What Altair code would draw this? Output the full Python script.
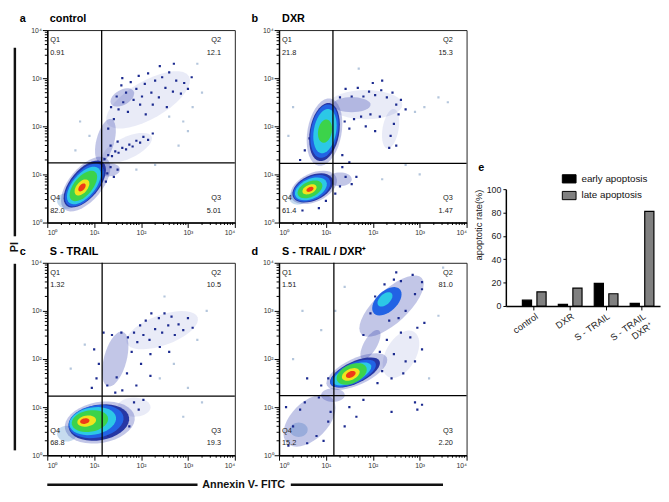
import math
import altair as alt
import pandas as pd

FONT = "Liberation Sans"
NB = "\u00a0"

# ---------------- data ----------------
PANEL_KEYS = ["a", "b", "c", "d"]
PANEL_NAMES = ["control", "DXR", "S - TRAIL", "S - TRAIL / DXR\u207a"]
Q1 = ["0.91", "21.8", "1.32", "1.51"]
Q2 = ["12.1", "15.3", "10.5", "81.0"]
Q3 = ["5.01", "1.47", "19.3", "2.20"]
Q4 = ["82.0", "61.4", "68.8", "15.2"]
GATE_X = [1.16, 1.15, 1.17, 1.17]   # log10 Annexin V gate
GATE_Y = [1.24, 1.23, 1.23, 1.24]   # log10 PI gate

GROUPS = ["control", "DXR", "S - TRAIL", "S - TRAIL / DXR\u207a"]
SERIES = ["early apoptosis", "late apoptosis"]
EARLY = [5.01, 1.47, 19.3, 2.20]
LATE = [12.1, 15.3, 10.5, 81.0]

# density contours:
# (level, log10 Annexin centre, log10 PI centre, extent in decades, shape, orientation deg)
A_POP = [
    ("halo", 0.42, 0.45, 0.42, "r", 0),
    ("hazeD", 1.24, 1.70, 0.95, "s", 285),
    ("hazeD", 1.30, 1.10, 0.50, "o", 0),
    ("hazeL", 2.15, 2.55, 2.00, "s", 330),
    ("hazeL", 1.70, 1.55, 1.15, "s", 335),
    ("hazeD", 1.60, 2.60, 0.55, "o", 330),
    ("hazeD", 0.82, 0.80, 1.40, "m", 310),
    ("navy", 0.80, 0.80, 1.20, "m", 310),
    ("blue", 0.79, 0.78, 1.10, "m", 310),
    ("cyan", 0.78, 0.77, 0.96, "m", 310),
    ("green", 0.77, 0.76, 0.78, "m", 310),
    ("yellow", 0.74, 0.73, 0.40, "o", 310),
    ("red", 0.74, 0.73, 0.20, "o", 310),
]
B_POP = [
    ("halo", 0.40, 0.52, 0.38, "r", 0),
    ("hazeL", 1.85, 2.45, 1.55, "s", 0),
    ("hazeL", 2.38, 1.95, 0.85, "s", 280),
    ("hazeD", 1.55, 2.45, 0.80, "s", 0),
    ("hazeD", 1.30, 0.90, 0.50, "o", 0),
    ("hazeD", 0.74, 0.73, 1.05, "o", 335),
    ("navy", 0.72, 0.72, 0.92, "o", 335),
    ("blue", 0.70, 0.71, 0.84, "o", 335),
    ("cyan", 0.68, 0.70, 0.72, "o", 335),
    ("green", 0.66, 0.69, 0.56, "o", 335),
    ("yellow", 0.65, 0.69, 0.32, "o", 335),
    ("red", 0.66, 0.69, 0.16, "o", 335),
    ("hazeD", 0.97, 1.88, 1.45, "m", 280),
    ("navy", 0.97, 1.88, 1.25, "m", 280),
    ("blue", 0.97, 1.90, 1.15, "m", 280),
    ("cyan", 0.98, 1.90, 0.95, "m", 280),
    ("green", 0.98, 1.90, 0.50, "o", 280),
]
C_POP = [
    ("halo", 0.42, 0.45, 0.42, "r", 0),
    ("hazeL", 2.45, 2.60, 1.60, "s", 340),
    ("hazeD", 1.45, 2.00, 1.20, "s", 285),
    ("hazeL", 1.85, 1.00, 0.70, "o", 0),
    ("hazeD", 1.12, 0.68, 1.50, "o", 350),
    ("navy", 1.10, 0.68, 1.30, "o", 350),
    ("blue", 1.04, 0.70, 1.18, "o", 350),
    ("cyan", 0.97, 0.71, 1.00, "o", 350),
    ("green", 0.91, 0.71, 0.78, "o", 350),
    ("yellow", 0.84, 0.71, 0.40, "o", 350),
    ("red", 0.80, 0.71, 0.20, "o", 350),
]
D_POP = [
    ("halo", 0.42, 0.53, 0.38, "r", 0),
    ("hazeD", 0.65, 0.72, 1.35, "o", 315),
    ("hazeD", 1.15, 1.25, 0.50, "o", 0),
    ("hazeL", 2.60, 2.10, 1.10, "o", 300),
    ("hazeD", 1.95, 2.30, 0.70, "s", 300),
    ("hazeD", 2.40, 3.10, 1.75, "s", 317),
    ("blue", 2.30, 3.20, 0.75, "o", 317),
    ("cyan", 2.26, 3.24, 0.38, "o", 317),
    ("hazeD", 1.66, 1.74, 1.40, "s", 335),
    ("navy", 1.62, 1.72, 1.15, "s", 335),
    ("blue", 1.58, 1.70, 1.05, "s", 335),
    ("cyan", 1.56, 1.69, 0.88, "s", 335),
    ("green", 1.55, 1.69, 0.68, "o", 335),
    ("yellow", 1.53, 1.68, 0.40, "o", 335),
    ("red", 1.53, 1.68, 0.22, "o", 335),
]

# individual sparse events (log10 Annexin, log10 PI)
A_DOTS = [(1.30, 1.95), (1.36, 2.40), (1.42, 2.15), (1.48, 2.62), (1.52, 2.35), (1.58, 2.85), (1.62, 2.50),
          (1.68, 2.70), (1.72, 2.30), (1.78, 2.92), (1.84, 2.55), (1.90, 2.78), (1.95, 3.05), (2.02, 2.62),
          (2.08, 2.88), (2.15, 3.10), (2.22, 2.70), (2.30, 2.95), (2.38, 2.60), (2.45, 3.02), (2.52, 2.80),
          (2.60, 3.12), (2.68, 2.72), (2.75, 2.95), (2.85, 2.68), (2.92, 2.90), (3.00, 2.78), (3.08, 3.02),
          (2.25, 2.45), (2.55, 2.40), (2.10, 2.25), (1.98, 2.45), (2.70, 3.30), (2.40, 3.25), (1.60, 3.00),
          (1.22, 1.32), (1.30, 1.40), (1.38, 1.38), (1.45, 1.48), (1.52, 1.45), (1.60, 1.55), (1.68, 1.52),
          (1.75, 1.62), (1.82, 1.58), (1.90, 1.70), (1.98, 1.66), (2.05, 1.78), (2.15, 1.72), (2.25, 1.85),
          (1.35, 1.60), (1.50, 1.68), (1.20, 1.10), (1.28, 1.02), (1.35, 1.15), (1.42, 0.95), (1.50, 1.10),
          (1.25, 0.85)]
A_PALE = [(2.60, 2.20), (2.90, 2.10), (3.10, 2.40), (2.80, 1.60), (3.20, 3.30), (0.90, 1.80), (0.70, 2.10),
          (2.30, 1.20), (3.00, 1.90), (1.90, 1.10), (0.60, 1.50), (3.30, 2.70)]
B_DOTS = [(1.30, 2.60), (1.42, 2.78), (1.55, 2.62), (1.68, 2.80), (1.80, 2.62), (1.92, 2.72), (2.05, 2.65),
          (2.18, 2.75), (2.30, 2.60), (2.42, 2.70), (2.50, 2.45), (2.55, 2.25), (2.45, 2.05), (2.38, 1.80),
          (2.50, 1.60), (2.35, 1.55), (2.60, 2.55), (2.70, 2.35), (1.40, 2.10), (1.60, 2.15), (1.75, 2.20),
          (1.95, 2.25), (2.15, 2.20), (1.50, 1.95), (1.85, 2.00), (2.05, 1.90), (1.35, 1.40), (1.30, 0.75),
          (1.42, 0.95), (1.55, 0.80), (1.65, 0.95), (1.20, 0.60), (0.55, 1.50), (0.65, 1.75), (0.45, 1.30),
          (0.50, 0.25), (0.85, 0.30), (1.00, 0.45), (1.35, 1.15), (1.50, 1.25), (2.00, 2.90), (2.20, 2.95)]
B_PALE = [(2.90, 2.30), (3.10, 2.40), (3.40, 2.60), (2.70, 1.20), (3.00, 1.00), (0.20, 1.80), (0.30, 2.40),
          (1.70, 3.20), (3.60, 2.50), (2.20, 0.90)]
C_DOTS = [(1.20, 2.55), (1.28, 1.45), (1.38, 2.50), (1.48, 1.62), (1.58, 2.55), (1.72, 2.45), (1.80, 2.15),
          (1.85, 2.55), (1.92, 2.35), (1.98, 2.70), (2.05, 2.50), (2.10, 2.80), (2.18, 2.40), (2.22, 2.95),
          (2.30, 2.62), (2.38, 2.85), (2.45, 2.55), (2.50, 2.95), (2.58, 2.70), (2.65, 2.88), (2.72, 2.50),
          (2.80, 2.72), (2.90, 2.60), (3.00, 2.85), (3.10, 2.65), (2.40, 2.25), (2.60, 2.15), (2.20, 2.10),
          (2.00, 1.90), (1.70, 1.70), (1.90, 1.45), (2.20, 1.65), (1.45, 1.30), (1.60, 1.35), (1.85, 1.10),
          (1.95, 0.95), (2.05, 1.15), (1.75, 0.60), (1.30, 0.40), (0.95, 1.40), (1.05, 1.60), (1.10, 1.90),
          (1.00, 2.20)]
C_PALE = [(2.40, 1.60), (2.70, 1.90), (3.00, 1.40), (3.20, 2.40), (3.40, 3.00), (2.50, 3.30), (0.50, 1.80),
          (0.80, 2.30), (2.90, 0.80), (3.30, 1.10)]
D_DOTS = [(1.95, 2.95), (2.05, 3.30), (2.25, 3.55), (2.45, 3.65), (2.60, 3.62), (2.85, 3.75), (3.05, 3.60),
          (3.05, 3.45), (2.90, 3.35), (2.70, 3.00), (2.55, 2.85), (2.35, 2.80), (1.80, 2.50), (2.50, 3.80),
          (2.15, 2.15), (2.30, 2.40), (2.45, 2.10), (2.60, 2.55), (2.70, 1.95), (2.80, 2.45), (2.95, 2.65),
          (3.05, 2.20), (2.20, 1.75), (2.40, 1.60), (2.65, 1.70), (2.90, 1.95), (3.10, 2.75), (2.10, 1.50),
          (2.90, 1.10), (2.95, 0.95), (3.05, 1.05), (1.50, 1.00), (1.65, 0.80), (1.40, 0.60), (1.80, 1.15),
          (2.40, 0.90), (0.20, 0.20), (0.30, 0.60), (0.45, 0.95), (0.60, 0.25), (0.80, 0.40), (0.95, 0.30),
          (1.05, 0.70), (0.85, 1.20), (1.10, 0.90), (0.55, 1.10), (0.15, 1.00), (0.90, 1.45), (1.05, 1.60),
          (0.60, 1.60)]
D_PALE = [(0.50, 3.00), (0.90, 2.60), (1.40, 3.50), (3.40, 2.90), (3.20, 1.60), (0.30, 2.00), (3.50, 3.90),
          (1.20, 3.00)]

PANEL_POPS = [A_POP, B_POP, C_POP, D_POP]
PANEL_DOTS = [A_DOTS, B_DOTS, C_DOTS, D_DOTS]
PANEL_PALE = [A_PALE, B_PALE, C_PALE, D_PALE]

# ---------------- styles ----------------
LEVELS = ["halo", "hazeL", "hazeD", "navy", "blue", "cyan", "green", "yellow", "red"]
LOW_LEVELS = ["halo", "hazeL", "hazeD"]
LEVEL_COLORS = ["#c6dbef", "#2b3fb0", "#2533a8", "#1f2fa0", "#2263e4", "#2cc8e6", "#3cd34a",
                "#f0e41e", "#ee3a18"]
LEVEL_OPAC = [1, 0.1, 0.28, 0.95, 1, 1, 1, 1, 1]


def ellipse_path(ratio, n=36):
    pts = []
    for k in range(n):
        t = 2 * math.pi * k / n
        pts.append(f"{math.cos(t):.3f},{ratio * math.sin(t):.3f}")
    return "M" + "L".join(pts) + "Z"


SHAPES = ["r", "o", "m", "s"]
SHAPE_PATHS = [ellipse_path(0.8), ellipse_path(0.58), ellipse_path(0.5), ellipse_path(0.4)]

W, H = 191, 196
PX_PER_DECADE = 48

MAJOR_TICKS = [0, 1, 2, 3, 4]
MINOR_TICKS = [dd + math.log10(k) for dd in range(4) for k in range(2, 10)]
LOG_LABEL = ("datum.value == 0 ? '10\u2070' : datum.value == 1 ? '10\u00b9' : "
             "datum.value == 2 ? '10\u00b2' : datum.value == 3 ? '10\u00b3' : '10\u2074'")


def log_axis(flush):
    return alt.Axis(values=MAJOR_TICKS, labelExpr=LOG_LABEL, title=None, grid=False,
                    tickSize=5, tickColor="black", tickWidth=1, domainColor="black", domainWidth=1.5,
                    labelFontSize=7, labelColor="#333", labelPadding=1, labelOverlap=False,
                    labelFlush=flush, labelFont=FONT)


def panel(i):
    pop = pd.DataFrame(PANEL_POPS[i], columns=["lvl", "x", "y", "ext", "shp", "ang"])
    xsc = alt.Scale(domain=[0, 4], nice=False, zero=False)
    ysc = alt.Scale(domain=[0, 4], nice=False, zero=False)

    def contours(keep_low):
        test = "indexof(%s, datum.lvl) %s 0" % (str(LOW_LEVELS), ">=" if keep_low else "<")
        return alt.Chart(pop).transform_filter(test).transform_calculate(
            ord="indexof(%s, datum.lvl)" % str(LEVELS)
        ).mark_point(filled=True, strokeWidth=0, clip=True).encode(
            x=alt.X("x:Q", scale=xsc, axis=log_axis(True)),
            y=alt.Y("y:Q", scale=ysc, axis=log_axis(False)),
            color=alt.Color("lvl:N", scale=alt.Scale(domain=LEVELS, range=LEVEL_COLORS), legend=None),
            opacity=alt.Opacity("lvl:N", scale=alt.Scale(type="ordinal", domain=LEVELS, range=LEVEL_OPAC),
                                legend=None),
            size=alt.Size("ext:Q", scale=alt.Scale(type="pow", exponent=2, domain=[0, 1],
                                                    range=[0, PX_PER_DECADE ** 2]), legend=None),
            shape=alt.Shape("shp:N", scale=alt.Scale(domain=SHAPES, range=SHAPE_PATHS), legend=None),
            angle=alt.Angle("ang:Q", scale=alt.Scale(domain=[0, 360], range=[0, 360]), legend=None),
            order=alt.Order("ord:Q"),
        )

    dots = alt.Chart(pd.DataFrame(PANEL_DOTS[i], columns=["x", "y"])).mark_square(
        size=5, color="#1b2a8f", opacity=1, clip=True).encode(
        x=alt.X("x:Q", scale=xsc), y=alt.Y("y:Q", scale=ysc))
    pale = alt.Chart(pd.DataFrame(PANEL_PALE[i], columns=["x", "y"])).mark_square(
        size=5, color="#b4c6dc", opacity=1, clip=True).encode(
        x=alt.X("x:Q", scale=xsc), y=alt.Y("y:Q", scale=ysc))

    mdf = pd.DataFrame({"m": MINOR_TICKS})
    xminor = alt.Chart(mdf).mark_rule(color="black", strokeWidth=1).encode(
        x=alt.X("m:Q", scale=xsc), y=alt.value(H), y2=alt.value(H + 2.5))
    yminor = alt.Chart(mdf).mark_rule(color="black", strokeWidth=1).encode(
        y=alt.Y("m:Q", scale=ysc), x=alt.value(0), x2=alt.value(-2.5))
    gdf = pd.DataFrame({"gx": [GATE_X[i]], "gy": [GATE_Y[i]],
                        "tl": ["Q1\n" + Q1[i]], "tr": ["Q2\n" + Q2[i]],
                        "br": ["Q3\n" + Q3[i]], "bl": ["Q4\n" + Q4[i]]})
    vline = alt.Chart(gdf).mark_rule(color="black", strokeWidth=1.3).encode(x=alt.X("gx:Q", scale=xsc))
    hline = alt.Chart(gdf).mark_rule(color="black", strokeWidth=1.3).encode(y=alt.Y("gy:Q", scale=ysc))
    tstyle = dict(lineBreak="\n", lineHeight=13, fontSize=7.5, font=FONT, color="#222", baseline="top")
    tl = alt.Chart(gdf).mark_text(align="left", **tstyle).encode(
        text="tl:N", x=alt.value(3), y=alt.value(6))
    tr = alt.Chart(gdf).mark_text(align="right", **tstyle).encode(
        text="tr:N", x=alt.value(W - 14), y=alt.value(6))
    bl = alt.Chart(gdf).mark_text(align="left", **tstyle).encode(
        text="bl:N", x=alt.value(3), y=alt.value(H - 29))
    br = alt.Chart(gdf).mark_text(align="right", **tstyle).encode(
        text="br:N", x=alt.value(W - 14), y=alt.value(H - 29))
    title = alt.TitleParams(PANEL_KEYS[i] + NB * 8 + PANEL_NAMES[i], anchor="start", frame="group",
                            dx=-28, offset=2, fontSize=11, font=FONT, fontWeight="bold",
                            color="black")
    return alt.layer(contours(True), pale, dots, contours(False), xminor, yminor, vline, hline,
                     tl, tr, bl, br).properties(
        width=W, height=H, title=title,
        view=alt.ViewBackground(stroke="#222", strokeWidth=1))


RES = dict(color="independent", opacity="independent")

a, b, c, d = [panel(i) for i in range(4)]

row1 = alt.hconcat(a, b, spacing=14).resolve_scale(**RES)
row2 = alt.hconcat(c, d, spacing=14).resolve_scale(**RES)

# shared x label with rules
ANNEX_W = 420
annex_df = pd.DataFrame({"t": ["Annexin V- FITC"]})
annex = alt.layer(
    alt.Chart(annex_df).mark_rule(opacity=0).encode(x=alt.value(0), x2=alt.value(ANNEX_W), y=alt.value(6)),
    alt.Chart(annex_df).mark_rule(color="#111", strokeWidth=2.5).encode(
        x=alt.value(0), x2=alt.value(153), y=alt.value(6)),
    alt.Chart(annex_df).mark_rule(color="#111", strokeWidth=2.5).encode(
        x=alt.value(248), x2=alt.value(403), y=alt.value(6)),
    alt.Chart(annex_df).mark_text(fontSize=11, fontWeight="bold", font=FONT, color="#111",
                                  baseline="middle").encode(text="t:N", x=alt.value(200), y=alt.value(6)),
).properties(width=ANNEX_W, height=12, view=alt.ViewBackground(stroke="transparent"))

grid = alt.vconcat(alt.vconcat(row1, row2, spacing=9).resolve_scale(**RES), annex,
                   spacing=9).resolve_scale(**RES)

# shared y label with rules
PI_H = 428
pi_df = pd.DataFrame({"t": ["PI"]})
pi = alt.layer(
    alt.Chart(pi_df).mark_rule(opacity=0).encode(x=alt.value(4), y=alt.value(0), y2=alt.value(PI_H)),
    alt.Chart(pi_df).mark_rule(color="#111", strokeWidth=2.5).encode(
        x=alt.value(4), y=alt.value(18), y2=alt.value(210)),
    alt.Chart(pi_df).mark_rule(color="#111", strokeWidth=2.5).encode(
        x=alt.value(4), y=alt.value(238), y2=alt.value(PI_H)),
    alt.Chart(pi_df).mark_text(fontSize=11, fontWeight="bold", font=FONT, color="#111", angle=270,
                               baseline="middle").encode(text="t:N", x=alt.value(4), y=alt.value(221)),
).properties(width=8, height=PI_H, view=alt.ViewBackground(stroke="transparent"))

# bar chart e
bar_df = pd.DataFrame({
    "group": GROUPS * 2,
    "kind": [SERIES[0]] * 4 + [SERIES[1]] * 4,
    "rate": EARLY + LATE,
})
EW, EH = 157, 119
e = alt.Chart(bar_df).mark_bar(stroke="black", strokeWidth=1.2).encode(
    x=alt.X("group:N", sort=GROUPS,
            scale=alt.Scale(paddingInner=0, paddingOuter=0.145, align=1),
            axis=alt.Axis(title=None, labelAngle=-35, labelFontSize=9.5, labelColor="#222",
                          labelFont=FONT, tickSize=4, tickColor="black", domainColor="black",
                          domainWidth=1.5, labelPadding=1,
                          labelExpr="datum.label == 'S - TRAIL / DXR\u207a' ? ['S - TRAIL', 'DXR\u207a'] : datum.label")),
    xOffset=alt.XOffset("kind:N", sort=SERIES, scale=alt.Scale(paddingInner=0.37, paddingOuter=0.42)),
    y=alt.Y("rate:Q", scale=alt.Scale(domain=[0, 100], nice=False),
            axis=alt.Axis(values=[0, 20, 40, 60, 80, 100], title="apoptotic rate(%)", grid=False,
                          titleFontSize=9.5, titleFontWeight="normal", titleColor="#222", titleFont=FONT,
                          labelFontSize=9, labelColor="#222", labelFont=FONT, tickSize=3,
                          tickColor="black", domainColor="black", domainWidth=1.5, labelPadding=2,
                          titleY=36, titlePadding=3)),
    color=alt.Color("kind:N", sort=SERIES,
                    scale=alt.Scale(domain=SERIES, range=["#000000", "#808080"]),
                    legend=alt.Legend(orient="none", legendX=57, legendY=-18, title=None,
                                      direction="vertical",
                                      symbolType="M-1,-0.6H1V0.6H-1Z", symbolSize=196,
                                      symbolStrokeColor="black", symbolStrokeWidth=1,
                                      labelFontSize=10, labelFont=FONT, labelColor="#111",
                                      rowPadding=3, labelOffset=5)),
).properties(width=EW, height=EH,
             title=alt.TitleParams("e", anchor="start", frame="group", dx=-28, offset=-2,
                                   fontSize=11, font=FONT, fontWeight="bold", color="black"),
             view=alt.ViewBackground(stroke="transparent"))

SP_H = 133
spacer = alt.Chart(pi_df).mark_rule(opacity=0).encode(
    x=alt.value(0), y=alt.value(0), y2=alt.value(SP_H)
).properties(width=1, height=SP_H, view=alt.ViewBackground(stroke="transparent"))

right = alt.vconcat(spacer, e, spacing=0).resolve_scale(**RES)

left = alt.hconcat(pi, grid, spacing=-2).resolve_scale(**RES)
chart = alt.hconcat(left, right, spacing=4).resolve_scale(**RES).properties(
    padding=0).configure(font=FONT)

chart.save("out.html", embed_options={"renderer": "svg", "actions": False})
